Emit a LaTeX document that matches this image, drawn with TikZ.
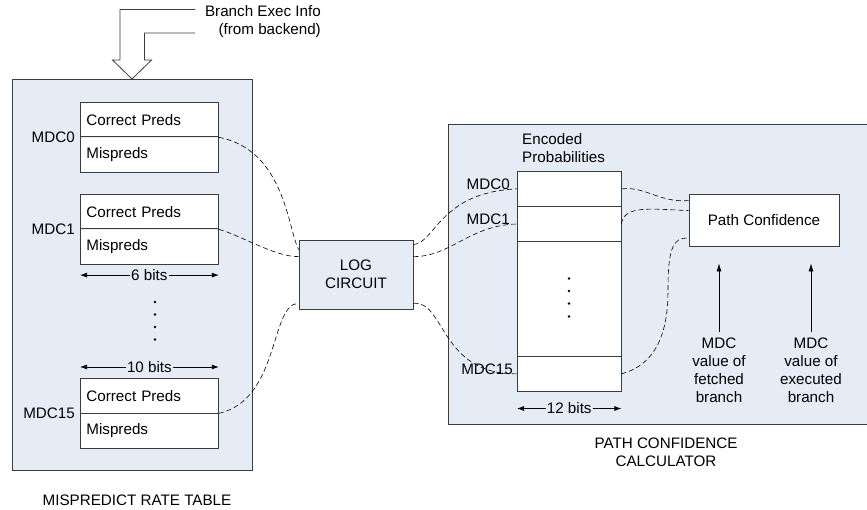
\documentclass[tikz,border=0pt]{standalone}
\usepackage{fontspec}
\setmainfont{Liberation Sans}
\usetikzlibrary{arrows.meta}
\definecolor{panelblue}{RGB}{230,236,246}
\definecolor{ln}{RGB}{60,60,60}
\begin{document}
\begin{tikzpicture}[x=1pt,y=-1pt,
  every node/.style={font=\fontsize{15.2}{18}\selectfont, text=black},
  panel/.style={draw=ln, line width=0.8pt, fill=panelblue},
  cell/.style={draw=ln, line width=0.8pt, fill=white, minimum width=138pt, minimum height=34.5pt,
     text width=126pt, inner xsep=6pt, inner ysep=0pt, align=left, anchor=north west},
  lcell/.style={cell, draw=none},
  ecell/.style={fill=white, minimum width=104pt, anchor=north west, inner sep=0pt},
  edge/.style={draw=ln, line width=0.8pt},
  lbl/.style={inner sep=1pt},
  conn/.style={draw=black, line width=0.6pt, dash pattern=on 5pt off 3pt},
  bits/.style={line width=0.7pt, {Latex[length=7pt,width=5pt]}-{Latex[length=7pt,width=5pt]}},
  uparrow/.style={line width=0.7pt, -{Latex[length=8pt,width=5pt]}}
]
\useasboundingbox (0,0) rectangle (867,510);

% panels
\node[panel, minimum width=240pt, minimum height=391pt, anchor=north west, inner sep=0pt] (mrt) at (12,79) {};
\node[panel, minimum width=430pt, minimum height=299pt, anchor=north west, inner sep=0pt] (pcc) at (448,124.5) {};

% hollow input arrow
\draw[line width=0.8pt, draw=ln, fill=white] (195,9.5) -- (120,9.5) -- (120,60) -- (112.5,60) -- (132,79) -- (151.5,60) -- (144.5,60) -- (144.5,33) -- (195,33);
\node[lbl, align=right, anchor=east] (bei) at (322,22) {Branch Exec Info\\(from backend)};

% MDC0
\node[cell] (c0a) at (80,102) {Correct Preds};
\node[lcell] (c0b) at (c0a.south west) {Mispreds};
\draw[edge] (c0a.south west) |- (c0b.south east) |- (c0a.south east);
\node[lbl, anchor=east] (m0) at ([xshift=-4pt]c0a.south west) {MDC0};
% MDC1
\node[cell] (c1a) at (80,194) {Correct Preds};
\node[lcell] (c1b) at (c1a.south west) {Mispreds};
\draw[edge] (c1a.south west) |- (c1b.south east) |- (c1a.south east);
\node[lbl, anchor=east] (m1) at ([xshift=-4pt]c1a.south west) {MDC1};
\draw[bits] ([yshift=-10.5pt]c1b.south west) -- ([yshift=-10.5pt]c1b.south east)
  node[midway, fill=panelblue, inner sep=1pt] (b6) {6 bits};
% dots
\foreach \yy in {302,314.5,327,339.5} \fill (155,\yy) circle (1.4pt);
% MDC15
\node[cell] (c15a) at (80,378) {Correct Preds};
\node[lcell] (c15b) at (c15a.south west) {Mispreds};
\draw[edge] (c15a.south west) |- (c15b.south east) |- (c15a.south east);
\node[lbl, anchor=east] (m15) at ([xshift=-4pt]c15a.south west) {MDC15};
\draw[bits] ([yshift=11pt]c15a.north west) -- ([yshift=11pt]c15a.north east)
  node[midway, fill=panelblue, inner sep=1pt] (b10) {10 bits};

\node[lbl] (mrtl) at (137,500) {MISPREDICT RATE TABLE};

% log circuit
\node[panel, minimum width=114pt, minimum height=69pt, align=center, inner sep=0pt] (log) at (356,274.5) {LOG\\CIRCUIT};

% encoded probabilities
\node[lbl, align=left, anchor=north west] (ep) at (521,132) {Encoded\\Probabilities};
\node[ecell, minimum height=35pt, draw=ln, line width=0.8pt] (e0) at (517,171) {};
\node[ecell, minimum height=34pt] (e1) at (e0.south west) {};
\node[ecell, minimum height=115pt] (em) at (e1.south west) {};
\node[ecell, minimum height=34pt] (e15) at (em.south west) {};
\draw[edge] (e0.south west) |- (e15.south east) |- (e0.south east);
\draw[edge] (e1.south west) -- (e1.south east);
\draw[edge] (em.south west) -- (em.south east);
\node[lbl, anchor=base east] (em0) at ([xshift=-6pt,yshift=-1pt]e0.west) {MDC0};
\node[lbl, anchor=base east] (em1) at ([xshift=-6pt,yshift=-1pt]e1.west) {MDC1};
\node[lbl, anchor=base east] (em15) at ([xshift=-3pt,yshift=-1pt]e15.west) {MDC15};
\foreach \yy in {278.5,291,303.5,316.5} \fill (569,\yy) circle (1.4pt);
\draw[bits] ([yshift=-17.5pt]e15.south west) -- ([yshift=-17.5pt]e15.south east)
  node[midway, fill=panelblue, inner sep=1pt] (b12) {12 bits};

% path confidence
\node[draw=ln, line width=0.8pt, fill=white, minimum width=150pt, minimum height=52pt, inner sep=0pt] (pc) at (764,220) {Path Confidence};
\node[lbl, align=center, anchor=north] (f) at (719,337) {MDC\\value of\\fetched\\branch};
\node[lbl, align=center, anchor=north] (x) at (811,337) {MDC\\value of\\executed\\branch};
\draw[uparrow] ([yshift=5pt]f.north) -- ([yshift=-17pt]f.north |- pc.south);
\draw[uparrow] ([yshift=5pt]x.north) -- ([yshift=-17pt]x.north |- pc.south);

\node[lbl, align=center] (pccl) at (666,452.5) {PATH CONFIDENCE\\CALCULATOR};

% dashed connectors
\draw[conn] (c0a.south east) .. controls (285,150) and (288,230) .. ([yshift=-10pt]log.north west);
\draw[conn] (c1a.south east) .. controls (240,235) and (275,257) .. ([yshift=-17pt]log.north west);
\draw[conn] (c15a.south east) .. controls (280,400) and (270,303) .. ([yshift=6pt]log.south west);
\draw[conn] ([yshift=-5pt]log.north east) .. controls (435,243) and (440,192) .. (e0.west);
\draw[conn] ([yshift=-17pt]log.north east) .. controls (450,257) and (470,225) .. (e1.west);
\draw[conn] ([yshift=6pt]log.south east) .. controls (445,300) and (440,375) .. (e15.west);
\draw[conn] (e0.east) .. controls (645,186) and (660,203) .. ([yshift=-7pt]pc.north west);
\draw[conn] (e1.east) .. controls (624,205) and (650,209) .. ([yshift=-17pt]pc.north west);
\draw[conn] (e15.east) .. controls (655,365) and (668,335) .. (668,290) .. controls (668,252) and (672,236) .. ([yshift=8pt]pc.south west);
\end{tikzpicture}
\end{document}
